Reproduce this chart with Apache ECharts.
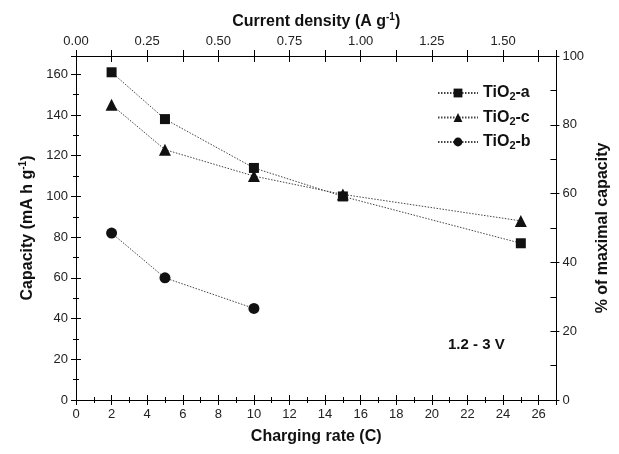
<!DOCTYPE html>
<html><head><meta charset="utf-8">
<script src="https://cdn.jsdelivr.net/npm/echarts@6/dist/echarts.min.js"></script>
<style>html,body{margin:0;padding:0;background:#fff}#c{width:619px;height:454px}</style>
</head><body><div id="c"></div>
<script>
var rates = [2, 5, 10, 15, 25];
var tio2a = [161, 138, 114, 100, 77];
var tio2c = [145, 123, 110, 101, 88];
var tio2b = [82, 60, 45];
var seriesNames = ['TiO2-a', 'TiO2-c', 'TiO2-b'];
var legendLabels = {'TiO2-a': 'a', 'TiO2-c': 'c', 'TiO2-b': 'b'};
var annotation = '1.2 - 3 V';

var FONT = 'Liberation Sans, Arial, sans-serif';
var chart = echarts.init(document.getElementById('c'));
function pairs(xs, ys){ return ys.map(function(v,i){ return [xs[i], v]; }); }
var axisLineStyle = {color:'#000', width:1};
var labelStyle = {color:'#222', fontSize:13, fontFamily:FONT};
var nameStyleBase = {color:'#111', fontSize:16, fontWeight:'bold', fontFamily:FONT};
var supRich = {
  b:{fontSize:16, fontWeight:'bold', fontFamily:FONT, color:'#111'},
  s:{fontSize:10, fontWeight:'bold', fontFamily:FONT, color:'#111', padding:[0,0,9,0]}
};
function mkSeries(name, data, symbol, size){
  return {name:name, type:'line', data:data, xAxisIndex:0, yAxisIndex:0,
    symbol:symbol, symbolSize:size, showSymbol:true,
    itemStyle:{color:'#111'},
    lineStyle:{color:'#444', width:1, type:[1.5,1.5]},
    emphasis:{disabled:true}, animation:false};
}
var option = {
  backgroundColor:'#fff',
  animation:false,
  grid:{left:76, right:55, top:56, bottom:54, containLabel:false},
  legend:{
    orient:'vertical', left:432, top:80, itemGap:7, itemWidth:40, itemHeight:11,
    data: seriesNames,
    formatter:function(n){ return '{b|TiO}{s|2}{b|-' + legendLabels[n] + '}'; },
    textStyle:{rich:{
      b:{fontSize:16, fontWeight:'bold', fontFamily:FONT, color:'#111'},
      s:{fontSize:11, fontWeight:'bold', fontFamily:FONT, color:'#111', padding:[8,0,0,0]}
    }}
  },
  xAxis:[
    {type:'value', position:'bottom', min:0, max:27, interval:2,
     axisLine:{show:true, lineStyle:axisLineStyle, onZero:false},
     axisTick:{show:true, inside:false, length:5, lineStyle:axisLineStyle},
     minorTick:{show:true, splitNumber:2, length:3, lineStyle:axisLineStyle},
     axisLabel:Object.assign({margin:8, showMaxLabel:false}, labelStyle),
     splitLine:{show:false},
     name:'Charging rate (C)', nameLocation:'middle', nameGap:29,
     nameTextStyle:nameStyleBase},
    {type:'value', position:'bottom', min:0, max:27, interval:2,
     axisLine:{show:false, onZero:false},
     axisTick:{show:true, inside:true, length:5, lineStyle:axisLineStyle},
     minorTick:{show:true, splitNumber:2, length:3, lineStyle:axisLineStyle},
     axisLabel:{show:false}, splitLine:{show:false}},
    {type:'value', position:'top', min:0, max:1.6875, interval:0.25,
     axisLine:{show:true, lineStyle:axisLineStyle, onZero:false},
     axisTick:{show:true, inside:false, length:6, lineStyle:axisLineStyle},
     minorTick:{show:true, splitNumber:2, length:6, lineStyle:axisLineStyle},
     axisLabel:Object.assign({margin:8, showMaxLabel:false, formatter:function(v){return v.toFixed(2);}}, labelStyle),
     splitLine:{show:false},
     name:'{b|Current density (A g}{s|-1}{b|)}', nameLocation:'middle', nameGap:25,
     nameTextStyle:{rich:supRich}},
    {type:'value', position:'top', min:0, max:1.6875, interval:0.25,
     axisLine:{show:false, onZero:false},
     axisTick:{show:true, inside:true, length:6, lineStyle:axisLineStyle},
     minorTick:{show:true, splitNumber:2, length:6, lineStyle:axisLineStyle},
     axisLabel:{show:false}, splitLine:{show:false}}
  ],
  yAxis:[
    {type:'value', position:'left', min:0, max:169, interval:20,
     axisLine:{show:true, lineStyle:axisLineStyle, onZero:false},
     axisTick:{show:true, inside:false, length:5, lineStyle:axisLineStyle},
     minorTick:{show:true, splitNumber:2, length:3, lineStyle:axisLineStyle},
     axisLabel:Object.assign({margin:8, showMaxLabel:false}, labelStyle),
     splitLine:{show:false},
     name:'{b|Capacity (mA h g}{s|-1}{b|)}', nameLocation:'middle', nameGap:39, nameRotate:90,
     nameTextStyle:{rich:supRich}},
    {type:'value', position:'left', min:0, max:169, interval:20,
     axisLine:{show:false, onZero:false},
     axisTick:{show:true, inside:true, length:5, lineStyle:axisLineStyle},
     minorTick:{show:true, splitNumber:2, length:3, lineStyle:axisLineStyle},
     axisLabel:{show:false}, splitLine:{show:false}},
    {type:'value', position:'right', min:0, max:100, interval:20,
     axisLine:{show:true, lineStyle:axisLineStyle, onZero:false},
     axisTick:{show:true, inside:true, length:6, lineStyle:axisLineStyle},
     minorTick:{show:true, splitNumber:2, length:6, lineStyle:axisLineStyle},
     axisLabel:Object.assign({margin:6}, labelStyle),
     splitLine:{show:false},
     name:'% of maximal capacity', nameLocation:'middle', nameGap:35, nameRotate:90,
     nameTextStyle:nameStyleBase},
    {type:'value', position:'right', min:0, max:100, interval:20,
     axisLine:{show:false, onZero:false},
     axisTick:{show:true, inside:false, length:3, lineStyle:axisLineStyle},
     minorTick:{show:false},
     axisLabel:{show:false}, splitLine:{show:false}}
  ],
  graphic:[{type:'text', left:448, top:337,
    style:{text:annotation, fontSize:15, fontWeight:'bold', fontFamily:FONT, fill:'#111'}}],
  series:[
    mkSeries('TiO2-a', pairs(rates, tio2a), 'rect', 10),
    mkSeries('TiO2-c', pairs(rates, tio2c), 'triangle', 12),
    mkSeries('TiO2-b', pairs(rates, tio2b), 'circle', 11)
  ]
};
chart.setOption(option);
</script></body></html>
